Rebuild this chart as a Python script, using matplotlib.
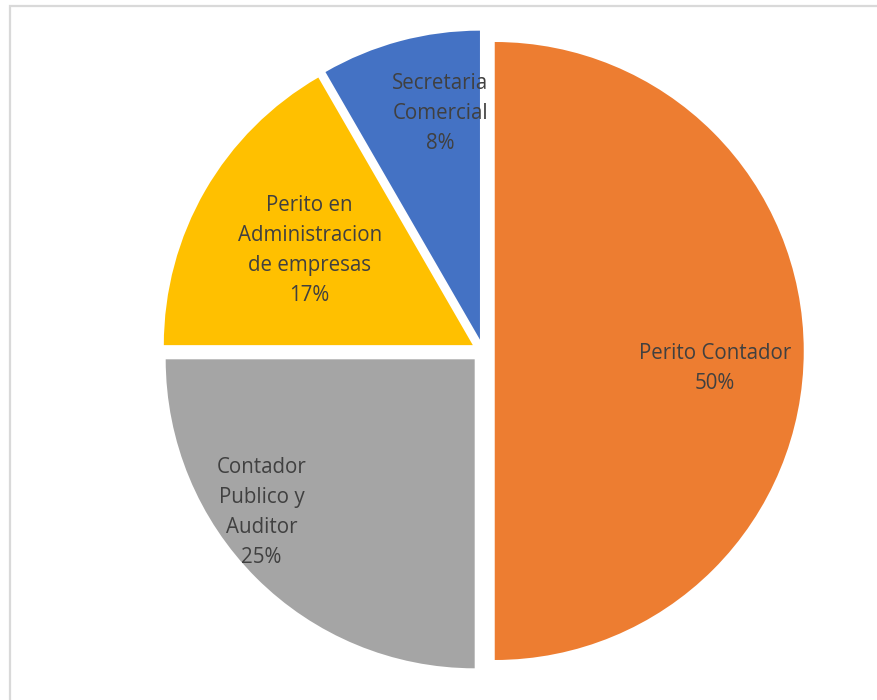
import numpy as np
import matplotlib
matplotlib.use("Agg")
import matplotlib.pyplot as plt
from matplotlib.patches import Rectangle

# Careers of the respondents
categories = ["Perito Contador", "Contador\nPublico y\nAuditor",
              "Perito en\nAdministracion\nde empresas", "Secretaria\nComercial"]
counts = [6, 3, 2, 1]
colors = ["#ED7D31", "#A5A5A5", "#FFC000", "#4472C4"]

W, H, DPI = 878, 700, 100
R_PX = 309.0            # pie radius in pixels
CX, CY = 483.0, 349.0   # pie centre in pixels (from the left / from the bottom)

fig = plt.figure(figsize=(W / DPI, H / DPI), dpi=DPI)
ax = fig.add_axes([0, 0, 1, 1])
ax.axis("off")

wedges, _ = ax.pie(counts, colors=colors, startangle=90, counterclock=False,
                   explode=[0.038] * len(counts), radius=1.0,
                   wedgeprops=dict(linewidth=0))

ax.set_xlim(-CX / R_PX, (W - CX) / R_PX)
ax.set_ylim(-CY / R_PX, (H - CY) / R_PX)
ax.set_aspect("equal", adjustable="box")

# label placement: (distance from wedge centre, angular shift in degrees)
placement = [(0.715, -4.5), (0.85, -9.3), (0.61, 0), (0.743, -5)]
total = sum(counts)
for w, name, n, (dist, shift) in zip(wedges, categories, counts, placement):
    ang = np.deg2rad((w.theta1 + w.theta2) / 2 + shift)
    cx, cy = w.center
    pct = f"{round(100 * n / total)}%"
    ax.text(cx + dist * np.cos(ang), cy + dist * np.sin(ang), f"{name}\n{pct}",
            ha="center", va="center", multialignment="center",
            fontsize=14.8, family="Open Sans", color="#404040", linespacing=1.56)

# chart-area border
fig.patches.append(Rectangle((10.5 / W, -0.05), 1.1, (H - 5.5) / H + 0.05,
                             transform=fig.transFigure, fill=False,
                             edgecolor="#D9D9D9", linewidth=1.6))

fig.savefig("out.png", dpi=DPI)
